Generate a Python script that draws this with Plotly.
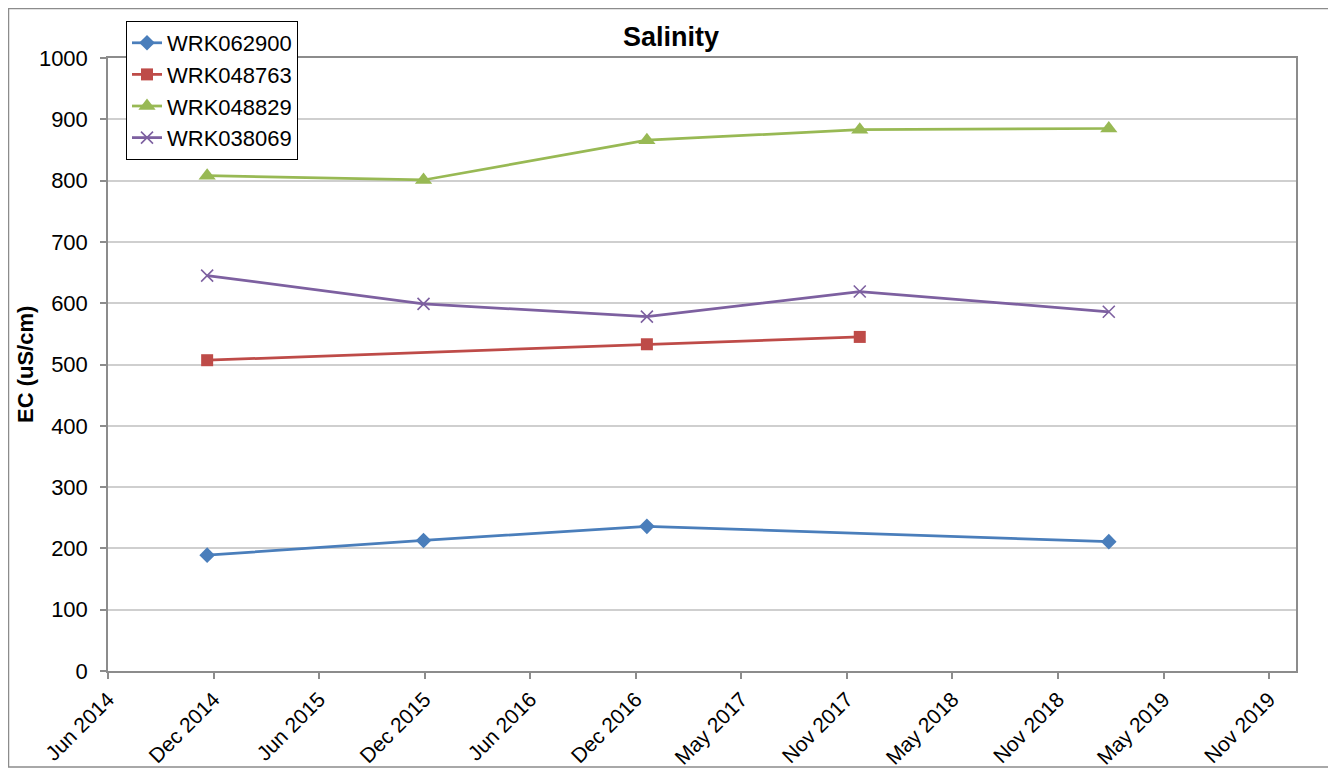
import pandas as pd
import plotly.graph_objects as go

# ---- data ----
series_names = ["WRK062900", "WRK048763", "WRK048829", "WRK038069"]

dates_062900 = ["2014-11-27", "2015-12-03", "2016-12-20", "2019-02-20"]
ec_062900 = [189, 213, 236, 211]

dates_048763 = ["2014-11-27", "2016-12-20", "2017-12-20"]
ec_048763 = [507, 533, 545]

dates_048829 = ["2014-11-27", "2015-12-03", "2016-12-20", "2017-12-20", "2019-02-20"]
ec_048829 = [808, 801, 866, 883, 885]

dates_038069 = ["2014-11-27", "2015-12-03", "2016-12-20", "2017-12-20", "2019-02-20"]
ec_038069 = [645, 599, 578, 619, 586]

tick_labels = ["Jun 2014", "Dec 2014", "Jun 2015", "Dec 2015", "Jun 2016", "Dec 2016",
               "May 2017", "Nov 2017", "May 2018", "Nov 2018", "May 2019", "Nov 2019"]
y_ticks = [0, 100, 200, 300, 400, 500, 600, 700, 800, 900, 1000]

# ---- styling ----
colors = ["#4A7EBB", "#BE4B48", "#98B954", "#7D60A0"]
symbols = ["diamond", "square", "triangle-up", "x-thin"]
sizes = [12, 12, 15, 12]
xs = [dates_062900, dates_048763, dates_048829, dates_038069]
ys = [ec_062900, ec_048763, ec_048829, ec_038069]

tick_dates = pd.date_range("2014-06-10", periods=len(tick_labels), freq="181D")

FONT = "Liberation Sans, Arial, sans-serif"

# The page body adds an 8px offset; figure is sized/positioned to compensate.
OFF = 8
W, H = 1336 - OFF, 770 - OFF
L, T, R, B = 108 - OFF, 58 - OFF, 40, 99
PW, PH = W - L - R, H - T - B


def px_x(page_x):
    return (page_x - OFF - L) / PW


def px_y(page_y):
    return (H - B - (page_y - OFF)) / PH


fig = go.Figure()
for name, x, y, c, s, sz in zip(series_names, xs, ys, colors, symbols, sizes):
    marker = dict(symbol=s, size=sz, color=c)
    if s == "x-thin":
        marker["line"] = dict(color=c, width=1.6)
    else:
        marker["line"] = dict(width=0)
    fig.add_trace(go.Scatter(
        x=pd.to_datetime(x), y=y, name=name, mode="lines+markers",
        line=dict(color=c, width=2.75), marker=marker,
    ))

fig.update_layout(
    width=W, height=H, autosize=False,
    paper_bgcolor="white", plot_bgcolor="white",
    margin=dict(l=L, r=R, t=T, b=B, pad=0),
    font=dict(family=FONT, size=22, color="#000000"),
    title=dict(text="<b>Salinity</b>", x=(671 - OFF) / W, xanchor="center",
               y=1 - (37 - OFF) / H, yanchor="middle",
               font=dict(family=FONT, size=27, color="#000000")),
    showlegend=True,
    legend=dict(x=px_x(126), y=px_y(21), xanchor="left", yanchor="top",
                bgcolor="white", bordercolor="#000000", borderwidth=1,
                font=dict(family=FONT, size=22, color="#000000"),
                itemwidth=30, tracegroupgap=0),
)

fig.update_xaxes(
    type="date", automargin=False,
    range=["2014-06-10", "2020-01-07"],
    tickvals=tick_dates, ticktext=tick_labels,
    tickangle=-45,
    showgrid=False, zeroline=False,
    showline=True, linecolor="#8C8C8C", linewidth=1.5, mirror=True,
    ticks="outside", ticklen=6, tickcolor="#8C8C8C", tickwidth=1.5,
    tickfont=dict(family=FONT, size=21, color="#000000"),
)
fig.update_yaxes(
    range=[0, 1000], tickvals=y_ticks, automargin=False,
    showgrid=True, gridcolor="#CFCFCF", gridwidth=1.5,
    zeroline=False,
    showline=True, linecolor="#8C8C8C", linewidth=1.5, mirror=True,
    ticks="outside", ticklen=6, tickcolor="#8C8C8C", tickwidth=1.5,
    tickfont=dict(family=FONT, size=22, color="#000000"),
    ticklabelstandoff=8,
)

# y-axis title
fig.add_annotation(
    text="<b>EC (uS/cm)</b>", textangle=-90,
    xref="paper", yref="paper",
    x=px_x(25), y=px_y(365),
    xanchor="center", yanchor="middle", showarrow=False,
    font=dict(family=FONT, size=22, color="#000000"),
)

# outer chart frame
fig.add_shape(
    type="rect", xref="paper", yref="paper",
    x0=px_x(8.5), x1=px_x(1334),
    y0=px_y(767), y1=px_y(8.5),
    line=dict(color="#8C8C8C", width=1.5), fillcolor="rgba(0,0,0,0)", layer="below",
)

fig.write_html("out.html")
